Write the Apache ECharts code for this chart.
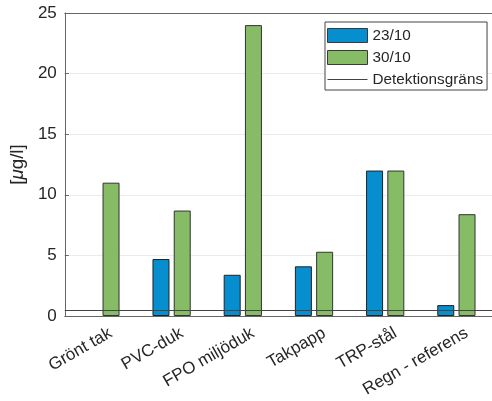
<!DOCTYPE html>
<html><head><meta charset="utf-8">
<script src="https://cdn.jsdelivr.net/npm/echarts@6/dist/echarts.min.js"></script>
<style>html,body{margin:0;padding:0;background:#fff}#c{width:492px;height:401px}</style>
</head><body><div id="c"></div>
<script>
const categories = ['Grönt tak', 'PVC-duk', 'FPO miljöduk', 'Takpapp', 'TRP-stål', 'Regn - referens'];
const values2310 = ['-', 4.7, 3.4, 4.1, 12, 0.9];
const values3010 = [11, 8.7, 24, 5.3, 12, 8.4];
const detectionLimit = 0.5;
const yMin = 0, yMax = 25, yStep = 5;

const font = 'Liberation Sans, Arial, Helvetica, sans-serif';
const txt = '#262626';
const axisCol = '#666666';

const chart = echarts.init(document.getElementById('c'), null, {renderer: 'canvas'});
chart.setOption({
  animation: false,
  textStyle: {fontFamily: font},
  grid: {left: 64, top: 13, width: 437, height: 303, containLabel: false},
  legend: {
    orient: 'vertical', left: 325, top: 22,
    padding: [6, 4, 3, 2], itemWidth: 40, itemHeight: 14, itemGap: 7,
    backgroundColor: '#fff', borderColor: '#444', borderWidth: 1,
    itemStyle: {borderWidth: 1, borderColor: '#3a3a3a'},
    textStyle: {fontSize: 15.3, color: txt, fontFamily: font},
    data: [
      {name: '23/10', icon: 'rect'},
      {name: '30/10', icon: 'rect'},
      {name: 'Detektionsgräns', icon: 'path://M0,0L40,0L40,1L0,1Z', itemStyle: {borderWidth: 0, color: '#444'}}
    ]
  },
  xAxis: [{
    type: 'category', data: categories, position: 'bottom',
    axisLine: {lineStyle: {color: axisCol, width: 1}},
    axisTick: {inside: true, alignWithLabel: true, length: 4, lineStyle: {color: axisCol}},
    axisLabel: {rotate: 30, fontSize: 17, color: txt, margin: 12, verticalAlign: 'top',
      padding: [0, -7, 0, 0], fontFamily: font},
    splitLine: {show: false}
  }, {
    type: 'category', data: categories, position: 'top',
    axisLine: {lineStyle: {color: axisCol, width: 1}},
    axisTick: {inside: true, alignWithLabel: true, length: 4, lineStyle: {color: axisCol}},
    axisLabel: {show: false}, splitLine: {show: false}
  }],
  yAxis: {
    type: 'value', min: yMin, max: yMax, interval: yStep,
    name: '[{i|μ}g/l]', nameLocation: 'middle', nameGap: 36, nameRotate: 90,
    nameTextStyle: {fontSize: 18.7, color: txt, fontFamily: font,
      rich: {i: {fontStyle: 'italic', fontSize: 18.7, color: txt, fontFamily: font}}},
    axisLine: {show: true, lineStyle: {color: axisCol, width: 1}},
    axisTick: {show: true, inside: true, length: 4, lineStyle: {color: axisCol}},
    axisLabel: {fontSize: 17, color: txt, margin: 8, fontFamily: font},
    splitLine: {show: true, lineStyle: {color: '#ebebeb', width: 1}}
  },
  series: [{
    name: '23/10', type: 'bar', data: values2310, barWidth: 17, barGap: '25%',
    itemStyle: {color: '#078ECF', borderColor: '#222', borderWidth: 1}
  }, {
    name: '30/10', type: 'bar', data: values3010, barWidth: 17, barGap: '25%',
    itemStyle: {color: '#86BC66', borderColor: '#333', borderWidth: 1}
  }, {
    name: 'Detektionsgräns', type: 'line', data: [], symbol: 'none',
    lineStyle: {color: '#444', width: 1}, itemStyle: {color: '#444'},
    z: 5,
    markLine: {
      silent: true, symbol: 'none', label: {show: false},
      lineStyle: {color: '#444', width: 1, type: 'solid'},
      data: [{yAxis: detectionLimit}]
    }
  }]
});
</script></body></html>
